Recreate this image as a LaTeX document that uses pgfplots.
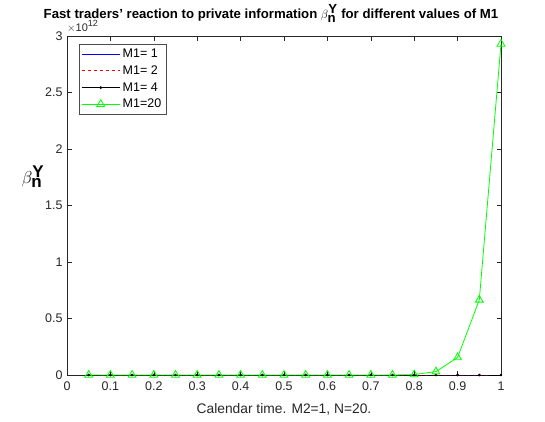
\documentclass[border=0pt]{standalone}
\usepackage{fontspec}
\setmainfont{Liberation Sans}
\usepackage{pgfplots}
\pgfplotsset{compat=1.18}
\begin{document}
\begin{tikzpicture}
\path[use as bounding box] (-67pt,-46pt) rectangle (478pt,375pt);
\begin{axis}[
  at={(0,0)}, anchor=south west, scale only axis,
  width=434pt, height=339pt,
  xmin=0, xmax=1, ymin=0, ymax=3,
  xtick={0,0.1,0.2,0.3,0.4,0.5,0.6,0.7,0.8,0.9,1},
  xticklabels={0,0.1,0.2,0.3,0.4,0.5,0.6,0.7,0.8,0.9,1},
  ytick={0,0.5,1,1.5,2,2.5,3},
  yticklabels={0,0.5,1,1.5,2,2.5,3},
  tick align=inside,
  major tick length=4.5pt,
  tick style={black!85, line width=0.5pt},
  axis line style={black!85, line width=0.5pt},
  ticklabel style={font=\fontsize{12.5}{13}\selectfont, text=black!85},
  xticklabel style={yshift=-3pt},
  yticklabel style={xshift=-1pt},
  xlabel={Calendar time. M2=1, N=20.},
  xlabel style={font=\fontsize{13.8}{14}\selectfont, text=black!85, yshift=-6pt},
  title={\textbf{Fast traders’ reaction to private information $\beta_{\textbf{n}}^{\textbf{Y}}$ for different values of M1}},
  title style={font=\fontsize{13.2}{14}\selectfont, at={(rel axis cs:0.47,1)}, anchor=south, yshift=4pt},
  legend style={at={(rel axis cs:0.028,0.975)}, anchor=north west, font=\fontsize{12.5}{13}\selectfont, draw=black!70, line width=0.4pt, row sep=1.5pt, inner sep=2pt, nodes={inner sep=2.5pt}},
  legend cell align=left,
  legend image code/.code={\draw[#1] (0pt,0pt) -- (38pt,0pt); \draw[#1, only marks] plot coordinates {(19pt,0pt)};},
  clip=false,
]
\addplot[blue, line width=0.8pt] coordinates {(0.05,0)(0.1,0)(0.15,0)(0.2,0)(0.25,0)(0.3,0)(0.35,0)(0.4,0)(0.45,0)(0.5,0)(0.55,0)(0.6,0)(0.65,0)(0.7,0)(0.75,0)(0.8,0)(0.85,0)(0.9,0)(0.95,0)(1,0)};
\addlegendentry{M1= 1}
\addplot[red, dashed, line width=0.8pt] coordinates {(0.05,0)(0.1,0)(0.15,0)(0.2,0)(0.25,0)(0.3,0)(0.35,0)(0.4,0)(0.45,0)(0.5,0)(0.55,0)(0.6,0)(0.65,0)(0.7,0)(0.75,0)(0.8,0)(0.85,0)(0.9,0)(0.95,0)(1,0)};
\addlegendentry{M1= 2}
\addplot[black, line width=0.8pt, mark=*, mark size=0.9pt] coordinates {(0.05,0)(0.1,0)(0.15,0)(0.2,0)(0.25,0)(0.3,0)(0.35,0)(0.4,0)(0.45,0)(0.5,0)(0.55,0)(0.6,0)(0.65,0)(0.7,0)(0.75,0)(0.8,0)(0.85,0)(0.9,0)(0.95,0)(1,0)};
\addlegendentry{M1= 4}
\addplot[green, line width=0.8pt, mark=triangle, mark size=4.5pt, mark options={solid, line width=0.8pt}] coordinates {(0.05,0)(0.1,0)(0.15,0)(0.2,0)(0.25,0)(0.3,0)(0.35,0)(0.4,0)(0.45,0)(0.5,0)(0.55,0)(0.6,0)(0.65,0)(0.7,0)(0.75,0)(0.8,0.004)(0.85,0.03)(0.9,0.155)(0.95,0.665)(1,2.93)};
\addlegendentry{M1=20}
\node[anchor=base west, font=\fontsize{11}{12}\selectfont, text=black!85, inner sep=0pt] at (rel axis cs:0,1) [yshift=5pt] {$\times$10\raisebox{5pt}{\fontsize{9}{10}\selectfont 12}};
\node[font=\fontsize{17}{18}\selectfont, anchor=center] at (rel axis cs:0,0.585) [xshift=-34pt] {$\beta_{\textbf{n}}^{\textbf{Y}}$};
\end{axis}
\end{tikzpicture}
\end{document}
